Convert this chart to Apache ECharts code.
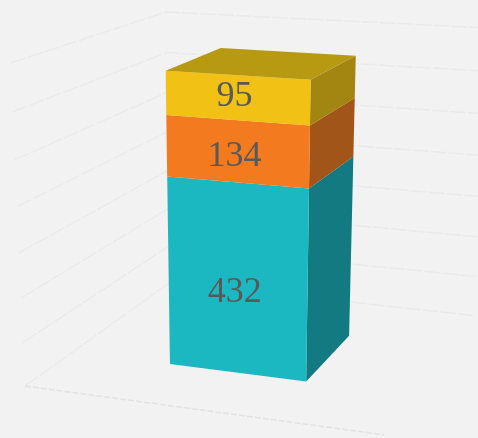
<!DOCTYPE html>
<html>
<head>
<meta charset="utf-8">
<style>
  html, body { margin: 0; padding: 0; background: #f2f2f2; }
  #chart_container { width: 478px; height: 438px; }
</style>
<script src="https://cdn.jsdelivr.net/npm/echarts@6/dist/echarts.min.js"></script>
</head>
<body>
<div id="chart_container"></div>
<script>
"use strict";

// chart values, bottom of the stack first
const categories = [""];
const seriesNames = ["teal", "orange", "yellow"];
const seriesValues = [432, 134, 95];
const yTicks = [0, 100, 200, 300, 400, 500, 600, 700];

// colours per series: front, side, top
const frontColors = ["#1cb8c1", "#f47a1f", "#f1c115"];
const sideColors = ["#127a80", "#a25518", "#a38512"];
const topColor = "#b89a12";

// camera, vanishing points (homogeneous, scaled per world axis)
const origin = [25, 386, 1];
const xDir = [-4379, -213, 1], xScale = -0.0754;
const yDir = [238, 5000, 1], yScale = -0.0654;
const zDir = [872, -219, 1], zScale = 0.2066;

const barShare = 0.4;     // bar width as part of the category band
const barDepth = 0.4;     // same for the depth axis
const depthCenter = 0.49;
const labelShift = -0.007;              // labels sit a bit left of the face centre
const labelHeights = [0.43, 0.42, 0.52]; // and at this height inside their segment

// world (0..1 on each axis) to screen
let project = (x, y, z) => {
    let p = [0, 1, 2].map((i) =>
        origin[i] + x * xScale * xDir[i] + y * yScale * yDir[i] + z * zScale * zDir[i]);
    return [p[0] / p[2], p[1] / p[2]];
};

// read a value through the hidden axis, as a share of the axis height
let yShare = (api, params, value) => {
    const g = params.coordSys;
    return (g.y + g.height - api.coord([0, value])[1]) / g.height;
};

let renderGrid = (params, api) => {
    const y = yShare(api, params, api.value(0));
    const wall = {
        type: "polyline",
        shape: { points: [project(0, y, 0), project(0, y, 1), project(1, y, 1)] },
        style: { fill: null, stroke: "#eaeaea", lineWidth: 1.5, lineDash: [16, 2] }
    };
    if (api.value(0) !== 0) return wall;
    return {
        type: "group",
        children: [wall, {
            type: "line",
            shape: (() => {
                const a = project(0, 0, 0), b = project(1, 0, 0);
                return { x1: a[0], y1: a[1], x2: b[0], y2: b[1] };
            })(),
            style: { stroke: "#e2e2e2", lineWidth: 1.5, lineDash: [6, 2] }
        }]
    };
};

let renderSegment = (idx) => (params, api) => {
    const g = params.coordSys;
    const center = (api.coord([api.value(0), 0])[0] - g.x) / g.width;
    const half = barShare * api.size([1, 0])[0] / g.width / 2;
    const x0 = center - half, x1 = center + half;
    const z0 = depthCenter - barDepth / 2, z1 = depthCenter + barDepth / 2;
    const y0 = yShare(api, params, api.value(1));
    const y1 = yShare(api, params, api.value(2));

    let face = (points, fill) => ({
        type: "polygon",
        shape: { points: points },
        style: { fill: fill }
    });
    let children = [
        face([project(x1, y0, z0), project(x1, y0, z1), project(x1, y1, z1), project(x1, y1, z0)], sideColors[idx]),
        face([project(x0, y0, z0), project(x1, y0, z0), project(x1, y1, z0), project(x0, y1, z0)], frontColors[idx])
    ];
    if (idx === seriesValues.length - 1) {
        children.push(face([project(x0, y1, z0), project(x1, y1, z0), project(x1, y1, z1), project(x0, y1, z1)], topColor));
    }
    const mid = project(center + labelShift, y0 + (y1 - y0) * labelHeights[idx], z0);
    children.push({
        type: "text",
        z2: 10,
        style: {
            text: String(seriesValues[idx]),
            x: mid[0],
            y: mid[1],
            align: "center",
            verticalAlign: "middle",
            fill: "#595959",
            font: '36px "Liberation Serif"'
        }
    });
    return { type: "group", children: children };
};

let base = 0;
const segments = seriesValues.map((val, idx) => {
    const row = [0, base, base + val];
    base += val;
    return {
        type: "custom",
        name: seriesNames[idx],
        coordinateSystem: "cartesian2d",
        renderItem: renderSegment(idx),
        encode: { x: 0, y: [1, 2] },
        data: [row],
        silent: true,
        z: 5 + idx
    };
});

const optEchart = {
    animation: false,
    backgroundColor: "#f2f2f2",
    grid: { left: 0, right: 0, top: 0, bottom: 0 },
    xAxis: { type: "category", data: categories, show: false },
    yAxis: { type: "value", min: 0, max: 700, interval: 100, show: false },
    series: [{
        type: "custom",
        name: "grid",
        coordinateSystem: "cartesian2d",
        renderItem: renderGrid,
        encode: { y: 0 },
        data: yTicks.map((t) => [t]),
        silent: true,
        z: 1
    }].concat(segments)
};

let pageLoaded = () => {
    let chartDom = document.getElementById("chart_container");
    let myChart = echarts.init(chartDom);
    myChart.setOption(optEchart);
};

window.addEventListener("load", pageLoaded, false);
</script>
</body>
</html>
